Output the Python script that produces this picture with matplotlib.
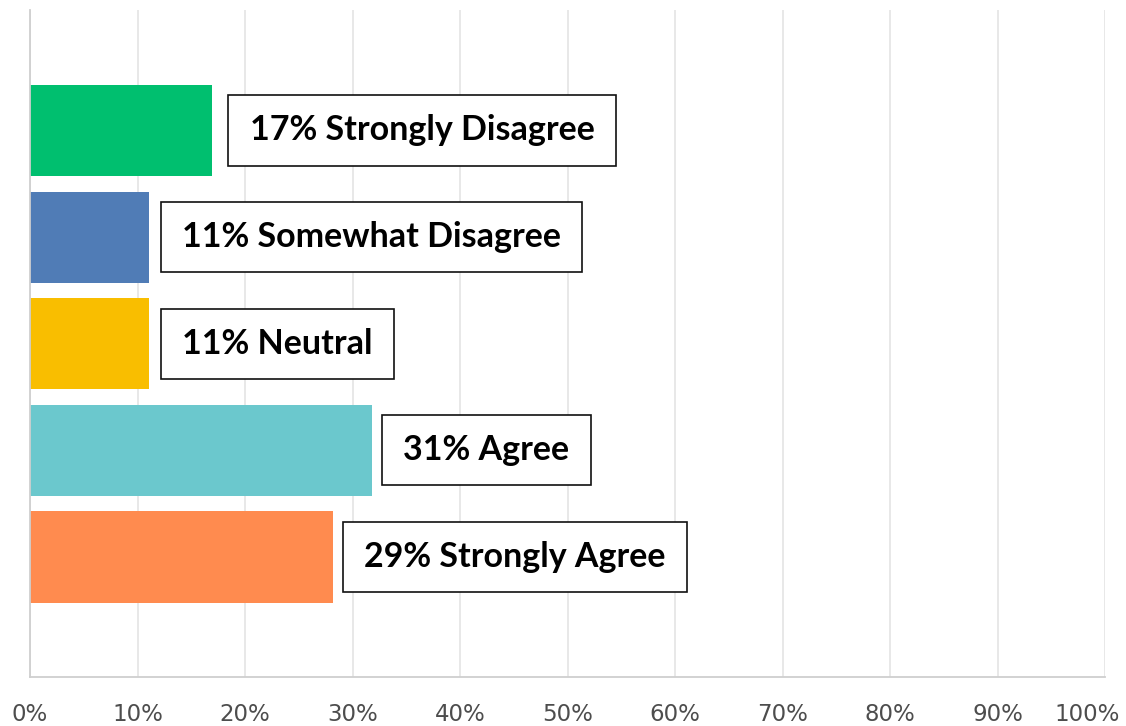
import matplotlib
matplotlib.use("Agg")
import matplotlib.pyplot as plt
from matplotlib.path import Path
from matplotlib.transforms import ScaledTranslation

# Data
categories = ["Strongly Disagree", "Somewhat Disagree", "Neutral", "Agree", "Strongly Agree"]
values = [16.9, 11.1, 11.1, 31.8, 28.2]
label_pcts = [17, 11, 11, 31, 29]
colors = ["#00BF6F", "#507CB6", "#F9BE00", "#6BC8CD", "#FF8B4F"]
xticks = [0, 10, 20, 30, 40, 50, 60, 70, 80, 90, 100]
xticklabels = [f"{t}%" for t in xticks]
label_offsets_pt = [12.5, 8.5, 8.5, 7.5, 7.5]

fig = plt.figure(figsize=(11.26, 7.26), dpi=100)
ax = fig.add_axes([30 / 1126, 49 / 726, 1075 / 1126, 667 / 726])

ypos = list(range(len(categories)))
ax.barh(ypos, values, height=0.855, color=colors, zorder=2)

ax.set_xlim(0, 100)
ax.set_ylim(4 + 1.125, -1.13)
ax.set_yticks([])
ax.set_xticks(xticks)
ax.set_xticklabels(xticklabels, fontsize=16.5, color="#4d4d4d", family="DejaVu Sans")
ax.tick_params(axis="x", length=0, pad=19)
ax.grid(axis="x", color="#e6e6e6", linewidth=1.3, zorder=0)
for s in ["top", "right"]:
    ax.spines[s].set_visible(False)
for s in ["left", "bottom"]:
    ax.spines[s].set_color("#cfcfcf")
    ax.spines[s].set_linewidth(1.3)

# keep last tick label within figure
lbls = ax.get_xticklabels()
lbls[-1].set_horizontalalignment("right")
lbls[-1].set_transform(lbls[-1].get_transform() + ScaledTranslation(15 / 100, 0, fig.dpi_scale_trans))


def rect_box(x0, y0, width, height, mutation_size):
    padx = 0.63 * mutation_size
    pady = 0.56 * mutation_size
    x0 -= padx
    y0 -= pady
    x1 = x0 + width + 2 * padx
    y1 = y0 + height + 2 * pady
    return Path([(x0, y0), (x1, y0), (x1, y1), (x0, y1), (x0, y0)],
                [Path.MOVETO, Path.LINETO, Path.LINETO, Path.LINETO, Path.CLOSEPOLY])


for i, (cat, v, p, off) in enumerate(zip(categories, values, label_pcts, label_offsets_pt)):
    ax.annotate(f"{p}% {cat}", xy=(v, i), xytext=(off + 15, 0), textcoords="offset points",
                ha="left", va="center", fontsize=24.5, fontweight="bold", family="Lato",
                color="#000000", zorder=5,
                bbox=dict(boxstyle=rect_box, facecolor="white", edgecolor="#111111", linewidth=1.2))

fig.savefig("out.png", dpi=100)
